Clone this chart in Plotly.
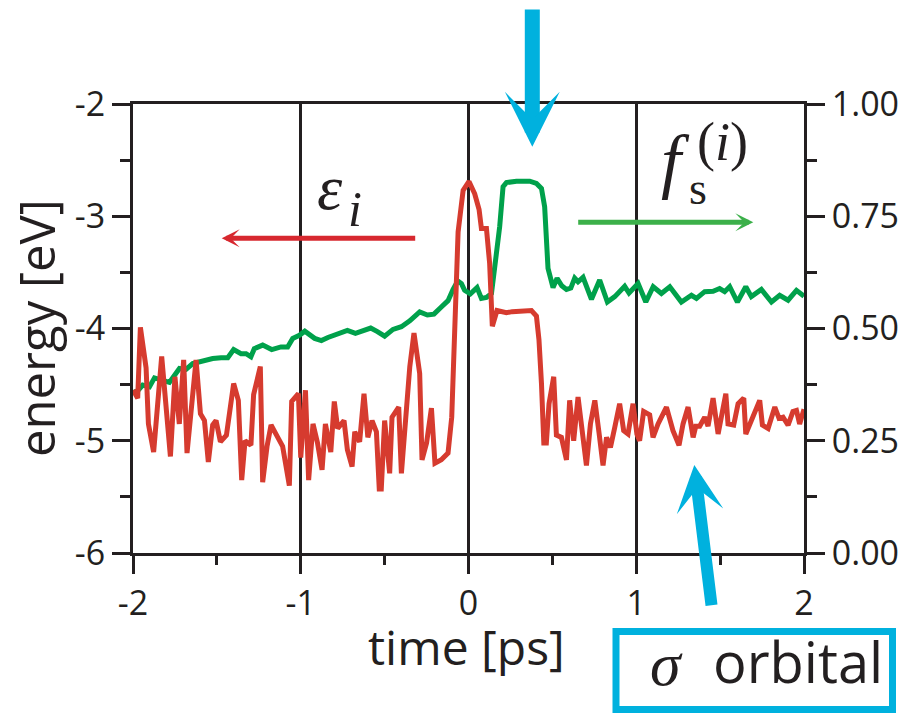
import plotly.graph_objects as go

# Orbital energy eps_i (eV) versus time (ps)
red_t = [-2.000, -1.972, -1.956, -1.922, -1.908, -1.877, -1.829, -1.777, -1.750, -1.724,
         -1.698, -1.678, -1.624, -1.598, -1.574, -1.551, -1.525, -1.505, -1.479, -1.443,
         -1.400, -1.372, -1.352, -1.332, -1.297, -1.281, -1.241, -1.227, -1.201, -1.177,
         -1.137, -1.108, -1.068, -1.054, -1.014, -1.000, -0.972, -0.953, -0.927, -0.900,
         -0.873, -0.853, -0.821, -0.800, -0.780, -0.742, -0.722, -0.694, -0.678, -0.649,
         -0.623, -0.600, -0.575, -0.549, -0.532, -0.520, -0.500, -0.470, -0.456, -0.416,
         -0.400, -0.370, -0.350, -0.325, -0.291, -0.277, -0.250, -0.221, -0.200, -0.162,
         -0.122, -0.100, -0.080, -0.062, -0.032, 0.003, 0.037, 0.063, 0.077, 0.107,
         0.126, 0.142, 0.170, 0.196, 0.226, 0.260, 0.305, 0.375, 0.405, 0.420,
         0.435, 0.449, 0.464, 0.480, 0.508, 0.524, 0.554, 0.584, 0.603, 0.627,
         0.653, 0.679, 0.703, 0.727, 0.753, 0.779, 0.802, 0.823, 0.846, 0.872,
         0.901, 0.925, 0.951, 0.981, 1.004, 1.020, 1.044, 1.080, 1.100, 1.130,
         1.180, 1.219, 1.255, 1.279, 1.309, 1.339, 1.355, 1.378, 1.408, 1.428,
         1.458, 1.488, 1.534, 1.547, 1.581, 1.607, 1.641, 1.653, 1.696, 1.736,
         1.752, 1.786, 1.826, 1.851, 1.875, 1.905, 1.934, 1.955, 1.974, 2.000]
red_e = [-4.55, -4.62, -3.99, -4.35, -4.85, -5.10, -4.25, -5.14, -4.43, -4.85,
         -4.28, -5.11, -4.28, -4.76, -4.82, -5.19, -4.86, -4.82, -5.01, -4.95,
         -4.49, -4.64, -5.35, -5.00, -5.04, -4.59, -4.34, -5.37, -5.05, -4.86,
         -4.97, -5.05, -5.40, -4.65, -4.58, -5.15, -4.55, -5.35, -4.85, -5.02,
         -5.26, -4.85, -5.10, -4.65, -4.89, -4.82, -5.08, -5.23, -4.92, -5.01,
         -4.58, -4.97, -4.82, -4.92, -5.43, -5.43, -4.82, -5.29, -4.79, -4.70,
         -5.29, -4.76, -4.34, -4.04, -4.40, -5.17, -5.02, -4.71, -5.20, -5.17,
         -5.11, -4.79, -3.89, -3.14, -2.77, -2.69, -2.80, -2.94, -3.11, -3.11,
         -3.42, -3.98, -3.84, -3.85, -3.86, -3.85, -3.85, -3.84, -3.89, -4.10,
         -4.49, -5.02, -5.02, -4.67, -4.43, -4.95, -4.97, -5.17, -4.64, -5.00,
         -4.61, -4.97, -5.22, -4.85, -4.64, -4.94, -5.22, -4.97, -5.06, -4.88,
         -4.67, -4.91, -4.94, -4.67, -4.94, -5.00, -4.74, -4.77, -4.97, -4.85,
         -4.70, -4.91, -5.04, -4.85, -4.70, -4.97, -4.87, -4.87, -4.79, -4.87,
         -4.62, -4.94, -4.58, -4.85, -4.86, -4.67, -4.62, -4.94, -4.79, -4.64,
         -4.86, -4.89, -4.70, -4.80, -4.79, -4.86, -4.74, -4.73, -4.85, -4.72]

# s-character fraction f_s^(i) versus time (ps)
green_t = [-2.000, -1.992, -1.970, -1.942, -1.902, -1.872, -1.833, -1.783, -1.723, -1.684,
           -1.644, -1.604, -1.565, -1.525, -1.475, -1.435, -1.400, -1.356, -1.326, -1.297,
           -1.277, -1.227, -1.173, -1.118, -1.078, -1.048, -1.008, -0.976, -0.917, -0.877,
           -0.838, -0.778, -0.722, -0.674, -0.629, -0.583, -0.543, -0.500, -0.450, -0.400,
           -0.350, -0.291, -0.245, -0.206, -0.162, -0.122, -0.092, -0.064, -0.042, -0.023,
           0.011, 0.051, 0.077, 0.107, 0.137, 0.162, 0.186, 0.206, 0.226, 0.286,
           0.365, 0.405, 0.435, 0.454, 0.468, 0.474, 0.504, 0.528, 0.556, 0.584,
           0.610, 0.633, 0.653, 0.683, 0.733, 0.782, 0.828, 0.872, 0.931, 0.957,
           1.011, 1.057, 1.101, 1.150, 1.200, 1.269, 1.329, 1.359, 1.408, 1.458,
           1.497, 1.527, 1.557, 1.603, 1.653, 1.686, 1.746, 1.806, 1.855, 1.905,
           1.955, 1.994, 2.000]
green_f = [0.357, 0.359, 0.362, 0.374, 0.370, 0.390, 0.385, 0.380, 0.411, 0.409,
           0.422, 0.426, 0.431, 0.433, 0.435, 0.435, 0.453, 0.444, 0.444, 0.437,
           0.455, 0.463, 0.453, 0.459, 0.459, 0.478, 0.485, 0.494, 0.478, 0.473,
           0.480, 0.487, 0.496, 0.489, 0.496, 0.501, 0.493, 0.483, 0.498, 0.504,
           0.517, 0.537, 0.530, 0.532, 0.548, 0.562, 0.587, 0.606, 0.600, 0.585,
           0.577, 0.591, 0.567, 0.569, 0.578, 0.645, 0.727, 0.816, 0.825, 0.828,
           0.828, 0.823, 0.812, 0.771, 0.697, 0.634, 0.591, 0.612, 0.595, 0.587,
           0.590, 0.612, 0.604, 0.614, 0.565, 0.608, 0.559, 0.571, 0.594, 0.579,
           0.600, 0.559, 0.593, 0.578, 0.593, 0.559, 0.574, 0.567, 0.582, 0.583,
           0.589, 0.582, 0.593, 0.559, 0.593, 0.571, 0.587, 0.559, 0.574, 0.563,
           0.585, 0.571, 0.572]

x_ticks = [-2, -1, 0, 1, 2]
x_labels = ["-2", "-1", "0", "1", "2"]
e_ticks = [-6, -5, -4, -3, -2]
e_labels = ["-6", "-5", "-4", "-3", "-2"]
f_ticks = [0.0, 0.25, 0.5, 0.75, 1.0]
f_labels = ["0.00", "0.25", "0.50", "0.75", "1.00"]

INK = "#231f20"
RED = "#d63b2f"
GREEN = "#00a14b"
CYAN = "#00b1de"
SANS = "Open Sans"
SERIF = "Liberation Serif"

W, H = 912, 715
ML, MR, MT, MB = 133, 108, 104, 162
PW, PH = W - ML - MR, H - MT - MB


def px(x):
    return (x - ML) / PW


def py(y):
    return (H - MB - y) / PH


fig = go.Figure()
fig.add_trace(go.Scatter(x=green_t, y=green_f, mode="lines", yaxis="y",
                         line=dict(color=GREEN, width=5), showlegend=False))
fig.add_trace(go.Scatter(x=red_t, y=red_e, mode="lines", yaxis="y2",
                         line=dict(color=RED, width=5), showlegend=False))

tickfont = dict(family=SANS, size=34, color=INK)
common = dict(showline=True, linecolor=INK, linewidth=3, ticks="outside",
              tickcolor=INK, tickwidth=2.5, ticklen=18, zeroline=False,
              tickfont=tickfont)

annotations = []


def label(text, x, y, size, family, angle=0):
    annotations.append(dict(text=text, xref="paper", yref="paper", x=px(x), y=py(y),
                            xanchor="center", yanchor="middle", showarrow=False,
                            textangle=angle, font=dict(family=family, size=size, color=INK)))


def arrow(tip, tail, color, width, size):
    annotations.append(dict(text="", xref="paper", yref="paper", x=px(tip[0]), y=py(tip[1]),
                            ax=tail[0] - tip[0], ay=tail[1] - tip[1], showarrow=True,
                            arrowhead=3, arrowcolor=color, arrowwidth=width,
                            arrowsize=size, standoff=0, startstandoff=0))


# axis titles
label("energy [eV]", 36, 328, 49, SANS, angle=-90)
label("time [ps]", 466, 646, 48, SANS)

# curve labels and direction arrows
label("<i>ε</i>", 330, 187, 64, SERIF)
label("<i>i</i>", 355, 209, 50, SERIF)
arrow((221.7, 238.3), (416.7, 238.3), "#d7282f", 5, 0.6)
label("<i>f</i>", 675, 161, 72, SERIF)
label("s", 698, 188, 46, SERIF)
label("(<i>i</i>)", 722, 142, 54, SERIF)
arrow((753.3, 222.3), (576.7, 222.3), "#3cb04a", 5, 0.6)

# highlight arrows
arrow((532.3, 146.7), (532.3, 8), CYAN, 15, 0.61)
arrow((694.3, 465), (711.7, 606.7), CYAN, 12, 0.65)
label("<i>σ</i>", 666, 664, 62, SERIF)
label("orbital", 797.5, 661, 56, SANS)

fig.update_layout(
    width=W, height=H,
    margin=dict(l=ML, r=MR, t=MT, b=MB, pad=0),
    paper_bgcolor="white", plot_bgcolor="white",
    showlegend=False,
    xaxis=dict(range=[-2, 2], tickmode="array", tickvals=x_ticks, ticktext=x_labels,
               mirror=True, showgrid=True, gridcolor=INK, gridwidth=2.5,
               minor=dict(tickmode="array", tickvals=[-1.5, -0.5, 0.5, 1.5],
                          ticks="outside", ticklen=9, tickwidth=2.5, tickcolor=INK,
                          showgrid=False),
               **common),
    yaxis=dict(range=[0, 1], side="right", tickmode="array", tickvals=f_ticks,
               ticktext=f_labels, showgrid=False,
               minor=dict(tickmode="array", tickvals=[0.125, 0.375, 0.625, 0.875],
                          ticks="outside", ticklen=10, tickwidth=2.5, tickcolor=INK,
                          showgrid=False),
               **common),
    yaxis2=dict(range=[-6, -2], side="left", overlaying="y", anchor="x",
                tickmode="array", tickvals=e_ticks, ticktext=e_labels, showgrid=False,
                minor=dict(tickmode="array", tickvals=[-5.5, -4.5, -3.5, -2.5],
                           ticks="outside", ticklen=10, tickwidth=2.5, tickcolor=INK,
                           showgrid=False),
                **common),
    shapes=[dict(type="rect", xref="paper", yref="paper",
                 x0=px(616), x1=px(892.5), y0=py(709.5), y1=py(631.5),
                 line=dict(color=CYAN, width=7), fillcolor="rgba(0,0,0,0)", layer="above")],
    annotations=annotations,
)

fig.write_html("out.html")
